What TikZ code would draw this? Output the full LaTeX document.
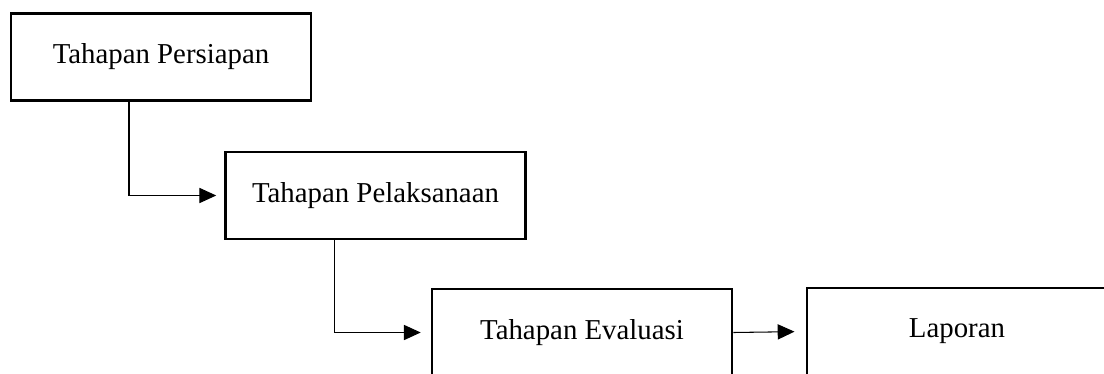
\documentclass[tikz,border=0pt]{standalone}
\usepackage{fontspec}
\setmainfont{Liberation Serif}
\usetikzlibrary{arrows.meta}
\tikzset{
	tahap/.style={draw, line width=1.8pt, minimum width=7.5cm, minimum height=2.18cm,
		inner sep=0pt, font=\fontsize{20.5}{24}\selectfont},
	alur/.style={-{Triangle[length=0.42cm,width=0.38cm]}, line width=0.75pt},
}
\begin{document}
\begin{tikzpicture}[x=0.025cm,y=-0.025cm]
		\useasboundingbox (0,0) rectangle (1104,374);
		\clip (0,0) rectangle (1104,374);
		\node[tahap] (t1) at (161,57) {Tahapan Persiapan};
		\node[tahap] (t2) at (375.5,195.5) {Tahapan Pelaksanaan};
		\node[tahap] (t3) at (582,332.5) {Tahapan Evaluasi};
		\node[tahap] (t4) at (957,331.5) {Laporan};
		\draw [alur, shorten >=0.2cm] ([xshift=-0.8cm]t1.south) |- (t2.west);
		\draw [alur, shorten >=0.25cm] ([xshift=-1.025cm]t2.south) |- (t3.west);
		\draw [alur, shorten >=0.28cm] (t3.east) -- (t4.west);
\end{tikzpicture}
\end{document}
